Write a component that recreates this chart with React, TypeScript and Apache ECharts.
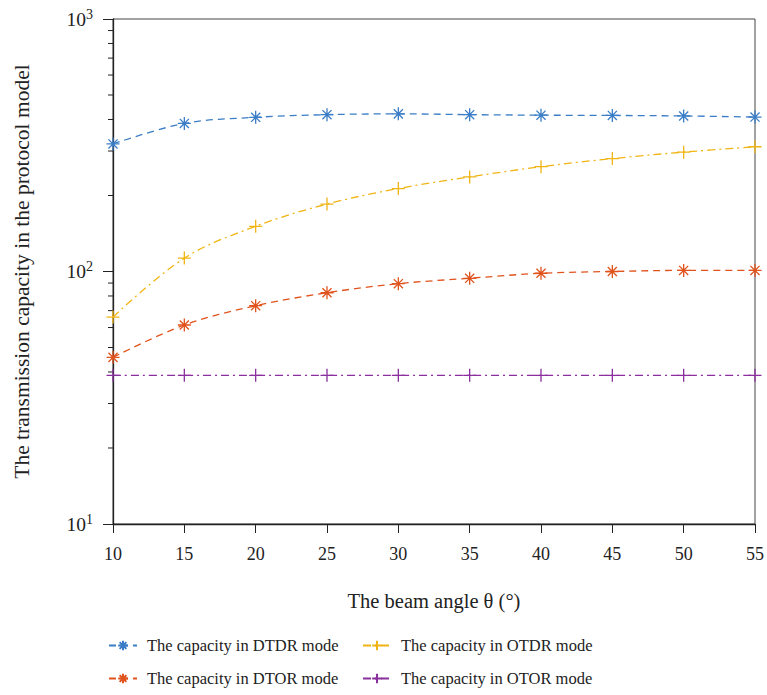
import React, { useEffect, useRef } from "react";
import * as echarts from "echarts";

const angles = [10, 15, 20, 25, 30, 35, 40, 45, 50, 55];
const dtdr = [320, 386, 408, 418, 421, 418, 416, 415, 413, 409];
const otdr = [66, 113, 151, 185, 213, 237, 260, 280, 297, 312];
const dtor = [45.7, 61.4, 73.2, 82.4, 89.5, 94, 98.4, 100, 101, 101];
const otor = [38.8, 38.8, 38.8, 38.8, 38.8, 38.8, 38.8, 38.8, 38.8, 38.8];
const minorTickValues = [20, 30, 40, 50, 60, 70, 80, 90, 200, 300, 400, 500, 600, 700, 800, 900];
const seriesNames = [
  "The capacity in DTDR mode",
  "The capacity in OTDR mode",
  "The capacity in DTOR mode",
  "The capacity in OTOR mode",
];

const FONT = "Liberation Serif";
const ASTERISK = "path://M5,0L5,10M0,5L10,5M1.5,1.5L8.5,8.5M8.5,1.5L1.5,8.5";
const PLUS = "path://M5,0L5,10M0,5L10,5";

const mk = (name: string, data: number[], color: string, symbol: string, dash: number[]) => ({
  name,
  type: "line",
  data: angles.map((a, i) => [a, data[i]]),
  smooth: 0.35,
  symbol,
  symbolSize: 13,
  showSymbol: true,
  itemStyle: { color, borderColor: color, borderWidth: 1.3 },
  lineStyle: { color, width: 1.3, type: dash },
});

const legendAt = (name: string, left: number, top: number) => ({
  data: [name],
  orient: "horizontal",
  left,
  top,
  itemWidth: 28,
  itemHeight: 12,
  textStyle: { fontFamily: FONT, fontSize: 16.5, color: "#222", padding: [0, 0, 0, 5] },
});

export default function App() {
  const ref = useRef<HTMLDivElement>(null);
  useEffect(() => {
    document.body.style.margin = "0";
    const chart = echarts.init(ref.current!, null, { renderer: "svg" });
    const dashed = [7, 5];
    const dashDot = [8, 4, 2, 4];
    chart.setOption({
      animation: false,
      backgroundColor: "#fff",
      grid: {
        left: 113,
        right: 12,
        top: 19,
        bottom: 171,
        show: true,
        borderColor: "#444",
        borderWidth: 1,
      },
      xAxis: {
        type: "value",
        min: 10,
        max: 55,
        interval: 5,
        name: "The beam angle θ (°)",
        nameLocation: "middle",
        nameGap: 66,
        nameTextStyle: { fontFamily: FONT, fontSize: 20.5, color: "#222" },
        axisLine: { lineStyle: { color: "#222", width: 1.3 } },
        axisTick: { inside: false, length: 9, lineStyle: { color: "#222" } },
        axisLabel: { fontFamily: FONT, fontSize: 18, color: "#222", margin: 21 },
        splitLine: { show: false },
      },
      yAxis: {
        type: "log",
        logBase: 10,
        min: 10,
        max: 1000,
        name: "The transmission capacity in the protocol model",
        nameLocation: "middle",
        nameGap: 80,
        nameTextStyle: { fontFamily: FONT, fontSize: 21.5, color: "#222" },
        axisLine: { show: true, lineStyle: { color: "#222", width: 1.3 } },
        axisTick: { show: true, inside: false, length: 10, lineStyle: { color: "#222" } },
        axisLabel: {
          margin: 20,
          formatter: (v: number) => `{b|10}{s|${Math.round(Math.log10(v))}}`,
          rich: {
            b: { fontFamily: FONT, fontSize: 19.5, color: "#222" },
            s: { fontFamily: FONT, fontSize: 14, color: "#222", verticalAlign: "top", padding: [0, 0, 10, 0] },
          },
        },
        splitLine: { show: false },
      },
      legend: [
        legendAt(seriesNames[0], 103, 632),
        legendAt(seriesNames[1], 357, 632),
        legendAt(seriesNames[2], 103, 665),
        legendAt(seriesNames[3], 357, 665),
      ],
      series: [
        mk(seriesNames[0], dtdr, "#3a7dc6", ASTERISK, dashed),
        mk(seriesNames[1], otdr, "#f0b514", PLUS, dashDot),
        mk(seriesNames[2], dtor, "#e0531c", ASTERISK, dashed),
        mk(seriesNames[3], otor, "#8a2f9e", PLUS, dashDot),
      ],
    });
    const x0 = chart.convertToPixel({ xAxisIndex: 0 }, 10) as number;
    chart.setOption({
      graphic: minorTickValues.map((v) => {
        const y = chart.convertToPixel({ yAxisIndex: 0 }, v) as number;
        return {
          type: "line",
          shape: { x1: x0 - 5, y1: y, x2: x0, y2: y },
          style: { stroke: "#222", lineWidth: 1 },
          silent: true,
        };
      }),
    });
    return () => chart.dispose();
  }, []);
  return <div ref={ref} style={{ width: 767, height: 695 }} />;
}
